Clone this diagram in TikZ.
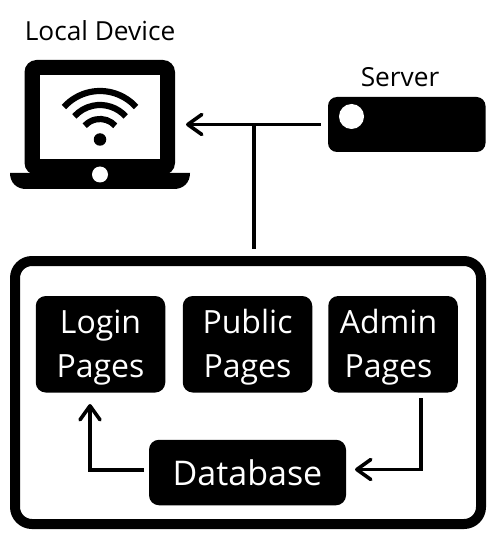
\documentclass[tikz,border=0pt]{standalone}
\usepackage{fontspec}
\setmainfont{Open Sans}
\usetikzlibrary{arrows.meta}
\newcommand{\twolines}[2]{\raisebox{-8.25pt}[0pt][0pt]{\begin{tabular}{@{}c@{}}#1\\#2\end{tabular}}}
\tikzset{
  blackbox/.style={fill=black,draw=none,rounded corners=10*0.75pt,text=white,align=center,inner sep=0pt},
  pagebox/.style={blackbox,minimum width=129.5*0.75pt,minimum height=96.5*0.75pt,font=\fontsize{24}{33}\selectfont},
  link/.style={line width=3.6*0.75pt,draw=black},
  tiplink/.style={link,-{Straight Barb[length=14*0.75pt,width=20*0.75pt,line width=3.6*0.75pt,round]}},
  caption/.style={font=\fontsize{19.7}{24}\selectfont,text=black,inner sep=0pt},
  wave/.style={line width=6.2*0.75pt,draw=black},
  hole/.style={circle,fill=white,draw=none,inner sep=0pt}
}
\begin{document}
\begin{tikzpicture}[x=0.75pt,y=-0.75pt]
\useasboundingbox (0,0) rectangle (503,545);
% captions
\node[caption] (localcap) at (100,30.5) {Local Device};
\node[caption] (servercap) at (400,77) {Server};
% laptop
\node[fill=black,rounded corners=12*0.75pt,inner sep=0pt,minimum width=150.5*0.75pt,minimum height=115*0.75pt] (laptop) at (99.75,117.5) {};
\fill[black] (10,173) -- (190,173) .. controls (190,183) and (183,189) .. (174,189) -- (26,189) .. controls (17,189) and (10,183) .. (10,173) -- cycle;
\fill[white] (40,75.5) rectangle (160,159);
\node[hole,minimum size=16*0.75pt] (lapdot) at (100,174.5) {};
\node[circle,fill=black,inner sep=0pt,minimum size=12.5*0.75pt] (wifidot) at (100,139.5) {};
\draw[wave] (100,139.5) ++(42:48.5 and -48.5) arc[start angle=42,end angle=138,x radius=48.5,y radius=-48.5];
\draw[wave] (100,139.5) ++(42:34.5 and -34.5) arc[start angle=42,end angle=138,x radius=34.5,y radius=-34.5];
\draw[wave] (100,139.5) ++(42:20.5 and -20.5) arc[start angle=42,end angle=138,x radius=20.5,y radius=-20.5];
% server
\node[fill=black,rounded corners=9*0.75pt,inner sep=0pt,minimum width=157.5*0.75pt,minimum height=55*0.75pt] (server) at (406.75,124.5) {};
\node[hole,minimum size=25*0.75pt] (serverdot) at (351.5,116.5) {};
% application box
\node[draw=black,fill=white,line width=10*0.75pt,rounded corners=17*0.75pt,inner sep=0pt,minimum width=466*0.75pt,minimum height=263*0.75pt,outer sep=0pt] (app) at (248,392.5) {};
\node[pagebox] (login) at (100.5,344.25) {\twolines{Login}{Pages}};
\node[pagebox] (public) at (247.5,344.25) {\twolines{Public}{Pages}};
\node[pagebox] (admin) at (393,344.25) {\twolines{Admin}{Pages}\hspace*{6.75pt}};
\node[blackbox,minimum width=197*0.75pt,minimum height=65.5*0.75pt,font=\fontsize{25.5}{33}\selectfont] (database) at (247.5,472.5) {Database};
% connectors
\coordinate (junction) at (254,124.5);
\coordinate (laptopin) at (186,124.5);
\coordinate (adminout) at (421,398);
\coordinate (dbin) at (355,469.5);
\coordinate (dbout) at (144,470);
\coordinate (loginin) at (90,404);
\draw[tiplink,shorten <=7*0.75pt] (server.west) -- (laptopin);
\draw[link,shorten >=12*0.75pt] (junction) -- (junction |- app.north);
\draw[tiplink] (adminout) |- (dbin);
\draw[tiplink] (dbout) -| (loginin);
\end{tikzpicture}
\end{document}
